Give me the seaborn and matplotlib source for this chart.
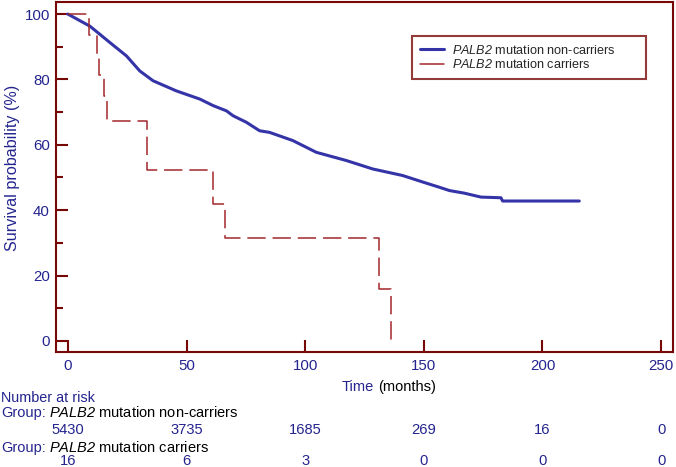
import numpy as np
import pandas as pd
import matplotlib
matplotlib.use('Agg')
import matplotlib.pyplot as plt
import matplotlib.transforms as mtransforms
from matplotlib.lines import Line2D
import seaborn as sns

# Kaplan-Meier curve, PALB2 mutation non-carriers
noncarrier_time = [0, 9.3, 17.7, 24.7, 30.3, 35.9, 45.7, 55.6, 61.2, 66.8, 69.6,
                   75.2, 80.8, 85.0, 94.8, 104.7, 117.3, 128.5, 141.1, 149.6,
                   156.6, 160.8, 167.1, 174.1, 182.5, 183.2, 215.5]
noncarrier_surv = [100, 96.3, 91.3, 87.2, 82.6, 79.6, 76.5, 74.0, 72.0, 70.4, 68.9,
                   66.9, 64.3, 63.8, 61.3, 57.7, 55.2, 52.6, 50.6, 48.6,
                   47.0, 46.0, 45.2, 44.0, 43.8, 42.8, 42.8]

# PALB2 mutation carriers (step function)
carrier_time = [0, 9.0, 12.1, 13.2, 15.2, 16.5, 33.2, 61.2, 66.4, 131.3, 136.0]
carrier_surv = [100, 93.75, 87.5, 81.25, 75.0, 67.2, 52.4, 42.0, 31.6, 15.8, 0]

# number at risk table
risk_times = [0, 50, 100, 150, 200, 250]
risk_noncarriers = [5430, 3735, 1685, 269, 16, 0]
risk_carriers = [16, 6, 3, 0, 0, 0]

W, H = 676, 467
dark_red = '#780808'
blue_txt = '#24248f'
blue_line = '#3434a8'
red_line = '#a3282c'

sns.set_style('white')
plt.rcParams['font.family'] = ['Liberation Sans', 'DejaVu Sans']
# mathtext is only used for the italic gene name
plt.rcParams['mathtext.fontset'] = 'custom'
plt.rcParams['mathtext.rm'] = 'Liberation Sans:italic'
plt.rcParams['mathtext.it'] = 'Liberation Sans:italic'

fig = plt.figure(figsize=(W / 100, H / 100), dpi=100)
ax = fig.add_axes([56 / W, 1 - 352 / H, (673 - 56) / W, (352 - 2) / H])

df_non = pd.DataFrame({'time': noncarrier_time, 'surv': noncarrier_surv})
df_car = pd.DataFrame({'time': carrier_time, 'surv': carrier_surv})

sns.lineplot(data=df_non, x='time', y='surv', ax=ax, color=blue_line,
             linewidth=2.2, estimator=None)
sns.lineplot(data=df_car, x='time', y='surv', ax=ax, color=red_line,
             linewidth=1.1, estimator=None, drawstyle='steps-post',
             linestyle=(0, (12, 4.5)))

ax.set_xlim(-5, 255)
ax.set_ylim(-3.4, 103.7)
ax.set_xticks(risk_times)
ax.set_yticks([0, 20, 40, 60, 80, 100])
ax.set_yticks([10, 30, 50, 70, 90], minor=True)
ax.set_xlabel('')
ax.set_ylabel('Survival probability (%)', color=blue_txt, fontsize=11.6)
ax.yaxis.set_label_coords(-0.058, 0.527)

for sp in ax.spines.values():
    sp.set_color(dark_red)
    sp.set_linewidth(1.5)
ax.tick_params(axis='both', which='major', direction='in', length=8.5, width=1.5,
               color=dark_red, labelcolor=blue_txt, labelsize=10.8)
ax.tick_params(axis='y', which='minor', direction='in', length=5, width=1.5,
               color=dark_red, left=True)
ax.tick_params(axis='y', which='major', pad=4.5, left=True)
ax.tick_params(axis='x', which='major', pad=5, bottom=True)

PALB2 = r'$\mathrm{PALB2}$'
handles = [Line2D([], [], color=blue_line, lw=2.2),
           Line2D([], [], color=red_line, lw=1.1)]
labels = [PALB2 + ' mutation non-carriers', PALB2 + ' mutation carriers']
leg = ax.legend(handles, labels, loc='upper left', mode='expand',
                bbox_to_anchor=(412 / W, 1 - 78 / H, 234 / W, 42 / H),
                bbox_transform=fig.transFigure,
                borderaxespad=0, fancybox=False, frameon=True, fontsize=9.1,
                handlelength=1.9, handletextpad=0.63, labelspacing=0.12, borderpad=0.6)
leg.get_frame().set_edgecolor(dark_red)
leg.get_frame().set_linewidth(1.5)

# axis label below x axis, two colours
fig.text(342 / W, 1 - 390.7 / H, 'Time', color=blue_txt, fontsize=10.5, va='baseline')
fig.text(378 / W, 1 - 390.7 / H, '(months)', color='black', fontsize=10.5, va='baseline')

# number at risk
fig.text(1 / W, 1 - 401.7 / H, 'Number at risk', color=blue_txt, fontsize=10.4, va='baseline')
fig.text(1 / W, 1 - 417.3 / H, 'Group:', color=blue_txt, fontsize=10.5, va='baseline')
fig.text(49 / W, 1 - 417.3 / H, PALB2 + ' mutation non-carriers', color='black',
         fontsize=10.5, va='baseline')
fig.text(1 / W, 1 - 451.7 / H, 'Group:', color=blue_txt, fontsize=10.5, va='baseline')
fig.text(49 / W, 1 - 451.7 / H, PALB2 + ' mutation carriers', color='black',
         fontsize=10.5, va='baseline')

trans = mtransforms.blended_transform_factory(ax.transData, fig.transFigure)
for t, n1, n2 in zip(risk_times, risk_noncarriers, risk_carriers):
    ax.text(t, 1 - 434 / H, str(n1), transform=trans, ha='center', va='baseline',
            color=blue_txt, fontsize=10.6, clip_on=False)
    ax.text(t, 1 - 465 / H, str(n2), transform=trans, ha='center', va='baseline',
            color=blue_txt, fontsize=10.6, clip_on=False)

fig.savefig('out.png', dpi=100)
